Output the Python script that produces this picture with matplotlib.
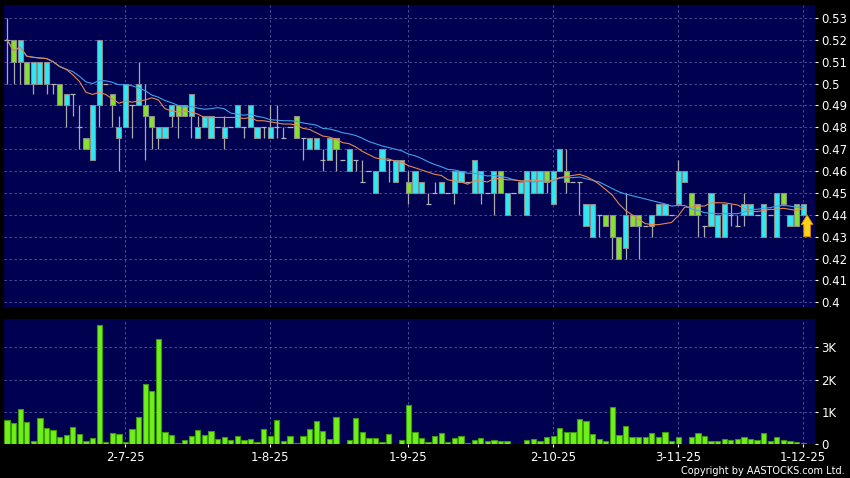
import numpy as np
import pandas as pd
import matplotlib
matplotlib.use("Agg")
import matplotlib.pyplot as plt

# ---------------- data ----------------
opens = [0.52, 0.52, 0.51, 0.51, 0.50, 0.50, 0.50, 0.50, 0.50, 0.49,
         0.495, 0.48, 0.475, 0.465, 0.49, 0.50, 0.495, 0.475, 0.48, 0.49,
         0.49, 0.49, 0.485, 0.475, 0.475, 0.485, 0.49, 0.49, 0.485, 0.475,
         0.48, 0.475, 0.48, 0.475, 0.48, 0.48, 0.48, 0.48, 0.475, 0.48,
         0.475, 0.48, 0.475, 0.48, 0.485, 0.475, 0.47, 0.47, 0.465, 0.465,
         0.475, 0.465, 0.46, 0.465, 0.455, 0.46, 0.45, 0.46, 0.465, 0.455,
         0.46, 0.455, 0.45, 0.45, 0.445, 0.45, 0.45, 0.45, 0.45, 0.455,
         0.455, 0.45, 0.45, 0.45, 0.45, 0.46, 0.44, 0.45, 0.45, 0.44,
         0.45, 0.45, 0.46, 0.445, 0.46, 0.46, 0.455, 0.455, 0.435, 0.43,
         0.44, 0.44, 0.44, 0.43, 0.425, 0.44, 0.44, 0.435, 0.435, 0.44,
         0.44, 0.44, 0.445, 0.455, 0.45, 0.445, 0.435, 0.435, 0.43, 0.43,
         0.44, 0.435, 0.44, 0.44, 0.44, 0.43, 0.44, 0.43, 0.45, 0.435,
         0.445, 0.44]
highs = [0.53, 0.52, 0.52, 0.51, 0.51, 0.51, 0.51, 0.50, 0.50, 0.495,
         0.495, 0.49, 0.475, 0.49, 0.52, 0.50, 0.495, 0.485, 0.50, 0.49,
         0.51, 0.50, 0.485, 0.48, 0.48, 0.49, 0.49, 0.49, 0.495, 0.485,
         0.485, 0.485, 0.48, 0.485, 0.48, 0.49, 0.48, 0.49, 0.48, 0.48,
         0.49, 0.49, 0.48, 0.48, 0.485, 0.475, 0.475, 0.475, 0.47, 0.475,
         0.475, 0.465, 0.47, 0.465, 0.465, 0.46, 0.46, 0.47, 0.465, 0.465,
         0.465, 0.46, 0.46, 0.455, 0.45, 0.455, 0.455, 0.45, 0.46, 0.46,
         0.455, 0.465, 0.46, 0.45, 0.46, 0.46, 0.45, 0.45, 0.455, 0.46,
         0.46, 0.46, 0.46, 0.46, 0.47, 0.47, 0.455, 0.455, 0.445, 0.445,
         0.44, 0.44, 0.44, 0.43, 0.45, 0.44, 0.44, 0.435, 0.44, 0.445,
         0.445, 0.44, 0.465, 0.46, 0.45, 0.445, 0.435, 0.45, 0.44, 0.445,
         0.445, 0.44, 0.45, 0.445, 0.44, 0.445, 0.44, 0.45, 0.45, 0.44,
         0.445, 0.445]
lows = [0.50, 0.50, 0.50, 0.50, 0.495, 0.50, 0.495, 0.495, 0.49, 0.48,
        0.485, 0.47, 0.47, 0.465, 0.48, 0.50, 0.48, 0.46, 0.48, 0.475,
        0.49, 0.465, 0.47, 0.47, 0.475, 0.48, 0.475, 0.485, 0.475, 0.475,
        0.48, 0.475, 0.48, 0.47, 0.48, 0.48, 0.475, 0.48, 0.475, 0.475,
        0.475, 0.475, 0.475, 0.48, 0.475, 0.465, 0.47, 0.47, 0.46, 0.465,
        0.46, 0.465, 0.46, 0.46, 0.455, 0.46, 0.45, 0.46, 0.455, 0.455,
        0.46, 0.445, 0.45, 0.45, 0.445, 0.45, 0.45, 0.45, 0.445, 0.455,
        0.455, 0.45, 0.445, 0.45, 0.44, 0.45, 0.44, 0.45, 0.45, 0.44,
        0.45, 0.45, 0.45, 0.445, 0.46, 0.45, 0.455, 0.44, 0.435, 0.43,
        0.43, 0.435, 0.42, 0.42, 0.42, 0.435, 0.42, 0.435, 0.43, 0.44,
        0.44, 0.44, 0.445, 0.455, 0.44, 0.43, 0.43, 0.435, 0.43, 0.43,
        0.435, 0.435, 0.435, 0.44, 0.44, 0.43, 0.44, 0.43, 0.445, 0.435,
        0.435, 0.44]
closes = [0.52, 0.51, 0.52, 0.50, 0.51, 0.51, 0.51, 0.50, 0.49, 0.495,
          0.495, 0.48, 0.47, 0.49, 0.52, 0.50, 0.49, 0.48, 0.50, 0.49,
          0.50, 0.485, 0.48, 0.48, 0.48, 0.49, 0.485, 0.485, 0.495, 0.48,
          0.485, 0.485, 0.48, 0.48, 0.48, 0.49, 0.48, 0.49, 0.48, 0.48,
          0.48, 0.48, 0.475, 0.48, 0.475, 0.475, 0.475, 0.475, 0.465, 0.475,
          0.47, 0.465, 0.47, 0.465, 0.455, 0.46, 0.46, 0.47, 0.465, 0.465,
          0.465, 0.45, 0.46, 0.455, 0.445, 0.45, 0.455, 0.45, 0.46, 0.46,
          0.455, 0.465, 0.46, 0.45, 0.46, 0.45, 0.45, 0.45, 0.455, 0.46,
          0.46, 0.46, 0.455, 0.46, 0.47, 0.455, 0.455, 0.455, 0.445, 0.445,
          0.44, 0.435, 0.43, 0.42, 0.44, 0.435, 0.435, 0.435, 0.44, 0.445,
          0.445, 0.44, 0.46, 0.46, 0.44, 0.44, 0.435, 0.45, 0.44, 0.445,
          0.44, 0.435, 0.445, 0.445, 0.44, 0.445, 0.44, 0.45, 0.445, 0.44,
          0.435, 0.445]
volumes_k = [0.74, 0.63, 1.07, 0.67, 0.07, 0.80, 0.49, 0.43, 0.20, 0.26,
             0.51, 0.30, 0.08, 0.19, 3.69, 0.06, 0.32, 0.30, 0.04, 0.47,
             0.84, 1.86, 1.65, 3.25, 0.37, 0.28, 0.03, 0.11, 0.24, 0.42,
             0.27, 0.40, 0.15, 0.22, 0.13, 0.25, 0.12, 0.15, 0.04, 0.47,
             0.24, 0.75, 0.08, 0.25, 0.03, 0.24, 0.45, 0.71, 0.40, 0.16,
             0.83, 0.00, 0.11, 0.80, 0.38, 0.17, 0.18, 0.06, 0.29, 0.00,
             0.12, 1.20, 0.36, 0.18, 0.04, 0.23, 0.32, 0.04, 0.17, 0.25,
             0.03, 0.12, 0.19, 0.08, 0.12, 0.08, 0.07, 0.00, 0.00, 0.13,
             0.14, 0.08, 0.20, 0.23, 0.50, 0.38, 0.36, 0.76, 0.70, 0.30,
             0.16, 0.09, 1.15, 0.26, 0.56, 0.20, 0.20, 0.20, 0.33, 0.20,
             0.35, 0.08, 0.21, 0.00, 0.21, 0.33, 0.24, 0.08, 0.08, 0.14,
             0.11, 0.14, 0.21, 0.15, 0.12, 0.32, 0.08, 0.21, 0.13, 0.08,
             0.06, 0.03]
date_tick_idx = [18, 40, 61, 83, 102, 121]
date_tick_labels = ["2-7-25", "1-8-25", "1-9-25", "2-10-25", "3-11-25", "1-12-25"]
price_ticks = [0.40, 0.41, 0.42, 0.43, 0.44, 0.45, 0.46, 0.47, 0.48, 0.49,
               0.50, 0.51, 0.52, 0.53]
vol_ticks = [0, 1, 2, 3]
vol_tick_labels = ["0", "1K", "2K", "3K"]
ma_short, ma_long = 10, 20
signal_lo, signal_hi = 0.43, 0.44     # yellow "up" signal arrow at last day
copyright_text = "Copyright by AASTOCKS.com Ltd."

# ---------------- style ----------------
BG = "#000050"
GRID = "#5858a0"
CYAN = "#2ee8f2"
GREEN = "#86e22c"
EDGE = "#8c8c8c"
WICK = "#aaaaaa"
VOL = "#70f01a"
VOL_EDGE = "#3c9a0a"
MA_S_COL = "#e8864a"
MA_L_COL = "#3fa2e8"

W, H = 850, 478
fig = plt.figure(figsize=(W / 100, H / 100), dpi=100, facecolor="black")


def box(l, t, r, b):
    return [l / W, 1 - b / H, (r - l) / W, (b - t) / H]


ax = fig.add_axes(box(4, 5, 815, 306.7))
axv = fig.add_axes(box(4, 319, 815, 443.7), sharex=ax)

o = np.array(opens)
h = np.array(highs)
l = np.array(lows)
c = np.array(closes)
v = np.array(volumes_k)
n = len(c)
x = np.arange(n)

for a in (ax, axv):
    a.set_facecolor(BG)
    for s in a.spines.values():
        s.set_visible(False)
    a.set_axisbelow(True)
    a.grid(True, color=GRID, linestyle=(0, (3, 3)), linewidth=0.6)
    a.yaxis.tick_right()
    a.tick_params(axis="y", colors="white", labelcolor="white", length=2.5,
                  width=0.8, pad=2, labelsize=8.5)

ax.set_xlim(-0.46, 122.8)
ax.set_xticks(date_tick_idx)
ax.tick_params(axis="x", length=0, labelbottom=False)
axv.tick_params(axis="x", colors="white", labelcolor="white", length=2.5,
                width=0.8, pad=2.5, labelsize=8.5)
axv.set_xticks(date_tick_idx)
axv.set_xticklabels(date_tick_labels)

# price panel
ax.set_ylim(0.398, 0.5359)
ax.set_yticks(price_ticks)
ax.set_yticklabels(["%g" % t for t in price_ticks])

bw = 0.78
ax.vlines(x, l, h, color=WICK, linewidth=0.9, zorder=2)
up = c > o
dn = c < o
dj = c == o
ax.bar(x[up], (c - o)[up], bottom=o[up], width=bw, color=CYAN,
       edgecolor=EDGE, linewidth=0.8, zorder=3)
ax.bar(x[dn], (o - c)[dn], bottom=c[dn], width=bw, color=GREEN,
       edgecolor=EDGE, linewidth=0.8, zorder=3)
ax.hlines(c[dj], x[dj] - bw / 2, x[dj] + bw / 2, color="#b4b4b4",
          linewidth=0.9, zorder=3)

cs = pd.Series(c)
ax.plot(x, cs.rolling(ma_long, min_periods=1).mean(), color=MA_L_COL,
        linewidth=0.8, zorder=4)
ax.plot(x, cs.rolling(ma_short, min_periods=1).mean(), color=MA_S_COL,
        linewidth=0.8, zorder=4)

ax.arrow(x[-1] + 0.6, signal_lo, 0, signal_hi - signal_lo, width=1.0,
         head_width=1.8, head_length=0.0045, length_includes_head=True,
         fc="#ffd21a", ec="#d08a00", linewidth=0.6, zorder=5, clip_on=False)

# volume panel
axv.set_ylim(0, 3.885)
axv.bar(x, v, width=0.8, color=VOL, edgecolor=VOL_EDGE, linewidth=0.8, zorder=3)
axv.set_yticks(vol_ticks)
axv.set_yticklabels(vol_tick_labels)

fig.text(845 / W, 1 - 471 / H, copyright_text, ha="right", va="center",
         color="white", fontsize=7)

fig.savefig("out.png", dpi=100, facecolor="black")
